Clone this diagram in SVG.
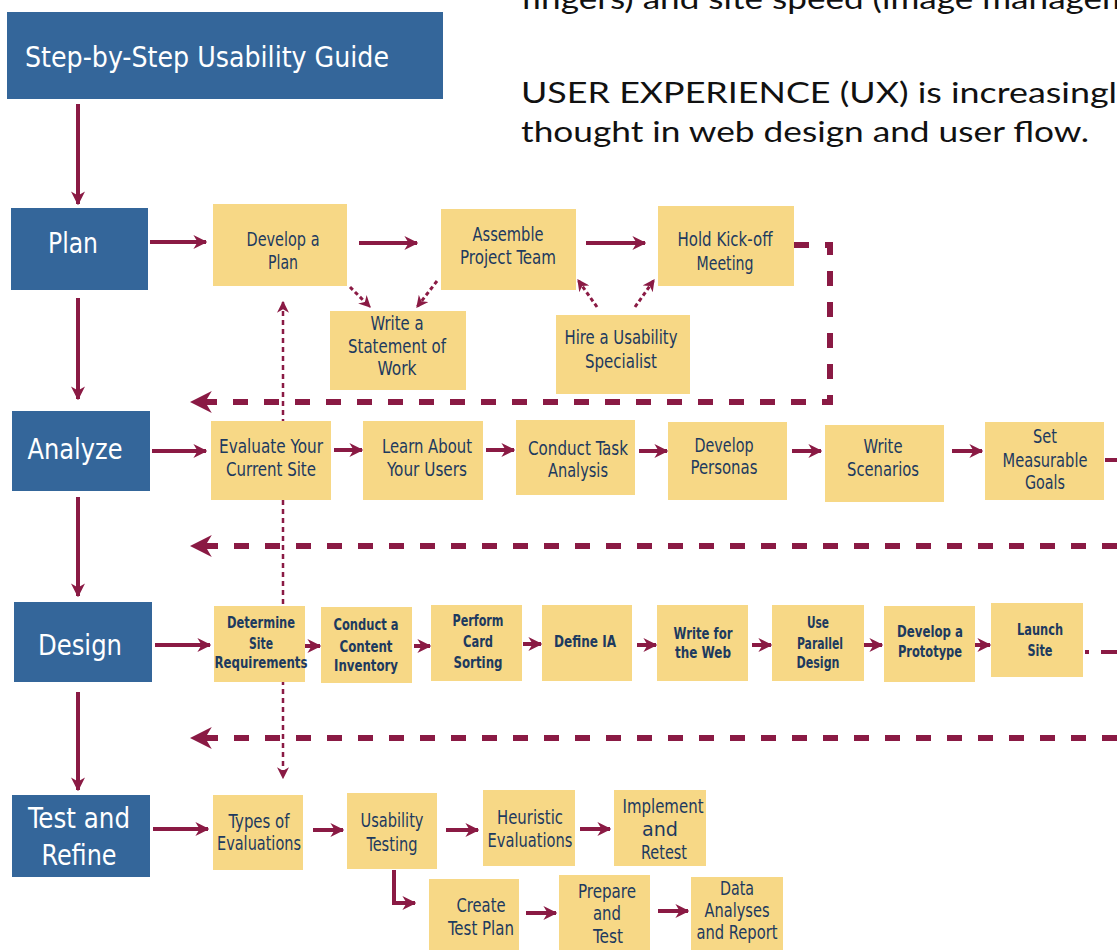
<svg xmlns="http://www.w3.org/2000/svg" width="1117" height="950" viewBox="0 0 1117 950">
  <style>
    .blue { fill: #34669a; }
    .yel { fill: #f7d886; }
    .head { font-family: "DejaVu Sans Condensed", "DejaVu Sans", sans-serif; fill: #ffffff; text-anchor: middle; font-size: 29px; }
    .lbl { font-family: "Liberation Sans Narrow", "DejaVu Sans Condensed", sans-serif; fill: #1d3a5f; text-anchor: middle; font-size: 19px; }
    .sm { font-size: 15px; font-weight: bold; }
    .note { font-family: Lato, "Noto Sans", sans-serif; fill: #111111; font-size: 28px; }
    .con { stroke: #8a1a44; stroke-width: 4; fill: none; }
    .dash { stroke: #8a1a44; stroke-width: 6; fill: none; stroke-dasharray: 15 16; }
    .dot { stroke: #8a1a44; stroke-width: 2.5; fill: none; stroke-dasharray: 5 4; }
    .dotd { stroke: #8a1a44; stroke-width: 3; fill: none; stroke-dasharray: 4 3; }
  </style>
  <defs>
    <marker id="ah" viewBox="0 0 10 10" refX="9" refY="5" markerWidth="14" markerHeight="14" markerUnits="userSpaceOnUse" orient="auto-start-reverse">
      <path d="M0,0 L10,5 L0,10 L3,5 z" fill="#8a1a44"/>
    </marker>
    <marker id="ahBig" viewBox="0 0 10 10" refX="9" refY="5" markerWidth="22" markerHeight="22" markerUnits="userSpaceOnUse" orient="auto-start-reverse">
      <path d="M0,0 L10,5 L0,10 L3,5 z" fill="#8a1a44"/>
    </marker>
    <marker id="ahSm" viewBox="0 0 10 10" refX="9" refY="5" markerWidth="12" markerHeight="12" markerUnits="userSpaceOnUse" orient="auto-start-reverse">
      <path d="M0,0 L10,5 L0,10 L3,5 z" fill="#8a1a44"/>
    </marker>
  </defs>

  <rect width="1117" height="950" fill="#ffffff"/>

  <!-- side note text -->
  <g id="note">
    <text class="note" x="521" y="9" textLength="610" lengthAdjust="spacingAndGlyphs">fingers) and site speed (image managem</text>
    <text class="note" x="521" y="103" textLength="596" lengthAdjust="spacingAndGlyphs">USER EXPERIENCE (UX) is increasingl</text>
    <text class="note" x="521" y="142" textLength="568" lengthAdjust="spacingAndGlyphs">thought in web design and user flow.</text>
  </g>

  <!-- connectors -->
  <g id="connectors">
    <!-- phase spine -->
    <path class="con" d="M78,104 V204" marker-end="url(#ah)"/>
    <path class="con" d="M78,298 V399" marker-end="url(#ah)"/>
    <path class="con" d="M78,497 V596" marker-end="url(#ah)"/>
    <path class="con" d="M78,692 V790" marker-end="url(#ah)"/>

    <!-- plan row -->
    <path class="con" d="M150,242 H206" marker-end="url(#ah)"/>
    <path class="con" d="M359,243 H417" marker-end="url(#ah)"/>
    <path class="con" d="M586,243 H645" marker-end="url(#ah)"/>
    <path class="dotd" d="M350,287 L370,307" marker-end="url(#ahSm)"/>
    <path class="dotd" d="M437,281 L417,307" marker-end="url(#ahSm)"/>
    <path class="dotd" d="M597,307 L578,280" marker-end="url(#ahSm)"/>
    <path class="dotd" d="M635,307 L654,280" marker-end="url(#ahSm)"/>
    <path class="dash" d="M794,245 H830 V402 H192" marker-end="url(#ahBig)"/>

    <!-- vertical link between first steps -->
    <path class="dot" d="M283,302 V778" marker-start="url(#ahSm)" marker-end="url(#ahSm)"/>

    <!-- analyze row -->
    <path class="con" d="M152,451 H206" marker-end="url(#ah)"/>
    <path class="con" stroke-width="5" d="M334,450 H362" marker-end="url(#ah)"/>
    <path class="con" stroke-width="5" d="M486,450 H514" marker-end="url(#ah)"/>
    <path class="con" stroke-width="5" d="M639,451 H667" marker-end="url(#ah)"/>
    <path class="con" stroke-width="5" d="M792,451 H821" marker-end="url(#ah)"/>
    <path class="con" stroke-width="5" d="M952,451 H982" marker-end="url(#ah)"/>
    <path class="con" stroke-width="5" d="M1105,460 H1117"/>
    <path class="dash" d="M1117,546 H192" marker-end="url(#ahBig)"/>

    <!-- design row -->
    <path class="con" d="M155,645 H210" marker-end="url(#ah)"/>
    <path class="con" d="M305,646 H320" marker-end="url(#ah)"/>
    <path class="con" d="M414,646 H430" marker-end="url(#ah)"/>
    <path class="con" d="M523,644 H541" marker-end="url(#ah)"/>
    <path class="con" d="M637,645 H656" marker-end="url(#ah)"/>
    <path class="con" d="M752,645 H771" marker-end="url(#ah)"/>
    <path class="con" d="M864,645 H882" marker-end="url(#ah)"/>
    <path class="con" d="M975,645 H990" marker-end="url(#ah)"/>
    <path class="con" stroke-width="5" stroke-dasharray="4 12 30" d="M1085,652 H1117"/>
    <path class="dash" d="M1117,738 H192" marker-end="url(#ahBig)"/>

    <!-- test row -->
    <path class="con" stroke-width="5" d="M153,829 H208" marker-end="url(#ah)"/>
    <path class="con" stroke-width="5" d="M313,830 H343" marker-end="url(#ah)"/>
    <path class="con" stroke-width="5" d="M446,830 H478" marker-end="url(#ah)"/>
    <path class="con" stroke-width="5" d="M580,829 H610" marker-end="url(#ah)"/>
    <path class="con" d="M394,870 V903 H415" marker-end="url(#ah)"/>
    <path class="con" stroke-width="5" d="M526,913 H556" marker-end="url(#ah)"/>
    <path class="con" d="M658,911 H688" marker-end="url(#ah)"/>
  </g>

  <!-- title and phases -->
  <g id="title">
    <rect class="blue" x="7" y="12" width="436" height="87"/>
    <text class="head" x="25" y="67" style="text-anchor:start" font-size="33" textLength="364" lengthAdjust="spacingAndGlyphs">Step-by-Step Usability Guide</text>
  </g>
  <g id="plan">
    <rect class="blue" x="11" y="208" width="137" height="82"/>
    <text class="head" x="73" y="253" textLength="50" lengthAdjust="spacingAndGlyphs">Plan</text>
  </g>
  <g id="analyze">
    <rect class="blue" x="12" y="411" width="138" height="80"/>
    <text class="head" x="75" y="459" textLength="95" lengthAdjust="spacingAndGlyphs">Analyze</text>
  </g>
  <g id="design">
    <rect class="blue" x="14" y="602" width="138" height="80"/>
    <text class="head" x="80" y="655" textLength="84" lengthAdjust="spacingAndGlyphs">Design</text>
  </g>
  <g id="test-refine">
    <rect class="blue" x="12" y="795" width="138" height="82"/>
    <text class="head" x="79" y="828" textLength="102" lengthAdjust="spacingAndGlyphs">Test and</text>
    <text class="head" x="79" y="865" textLength="75" lengthAdjust="spacingAndGlyphs">Refine</text>
  </g>

  <!-- plan steps -->
  <g id="develop-plan">
    <rect class="yel" x="213" y="204" width="134" height="82"/>
    <text class="lbl" x="283" y="246" textLength="73" lengthAdjust="spacingAndGlyphs">Develop a</text>
    <text class="lbl" x="283" y="269" textLength="30" lengthAdjust="spacingAndGlyphs">Plan</text>
  </g>
  <g id="assemble-team">
    <rect class="yel" x="441" y="209" width="135" height="81"/>
    <text class="lbl" x="508" y="241" textLength="71" lengthAdjust="spacingAndGlyphs">Assemble</text>
    <text class="lbl" x="508" y="264" textLength="96" lengthAdjust="spacingAndGlyphs">Project Team</text>
  </g>
  <g id="kick-off">
    <rect class="yel" x="658" y="206" width="136" height="80"/>
    <text class="lbl" x="725" y="246" textLength="95" lengthAdjust="spacingAndGlyphs">Hold Kick-off</text>
    <text class="lbl" x="725" y="270" textLength="57" lengthAdjust="spacingAndGlyphs">Meeting</text>
  </g>
  <g id="statement-of-work">
    <rect class="yel" x="330" y="311" width="136" height="79"/>
    <text class="lbl" x="397" y="330" textLength="53" lengthAdjust="spacingAndGlyphs">Write a</text>
    <text class="lbl" x="397" y="353" textLength="98" lengthAdjust="spacingAndGlyphs">Statement of</text>
    <text class="lbl" x="397" y="375" textLength="39" lengthAdjust="spacingAndGlyphs">Work</text>
  </g>
  <g id="usability-specialist">
    <rect class="yel" x="556" y="315" width="134" height="79"/>
    <text class="lbl" x="621" y="344" textLength="113" lengthAdjust="spacingAndGlyphs">Hire a Usability</text>
    <text class="lbl" x="621" y="368" textLength="72" lengthAdjust="spacingAndGlyphs">Specialist</text>
  </g>

  <!-- analyze steps -->
  <g id="evaluate-site">
    <rect class="yel" x="211" y="421" width="120" height="79"/>
    <text class="lbl" x="271" y="453" textLength="104" lengthAdjust="spacingAndGlyphs">Evaluate Your</text>
    <text class="lbl" x="271" y="476" textLength="90" lengthAdjust="spacingAndGlyphs">Current Site</text>
  </g>
  <g id="learn-users">
    <rect class="yel" x="363" y="421" width="120" height="79"/>
    <text class="lbl" x="427" y="453" textLength="90" lengthAdjust="spacingAndGlyphs">Learn About</text>
    <text class="lbl" x="427" y="476" textLength="80" lengthAdjust="spacingAndGlyphs">Your Users</text>
  </g>
  <g id="task-analysis">
    <rect class="yel" x="516" y="420" width="119" height="75"/>
    <text class="lbl" x="578" y="455" textLength="100" lengthAdjust="spacingAndGlyphs">Conduct Task</text>
    <text class="lbl" x="578" y="477" textLength="60" lengthAdjust="spacingAndGlyphs">Analysis</text>
  </g>
  <g id="personas">
    <rect class="yel" x="668" y="422" width="119" height="78"/>
    <text class="lbl" x="724" y="452" textLength="59" lengthAdjust="spacingAndGlyphs">Develop</text>
    <text class="lbl" x="724" y="474" textLength="67" lengthAdjust="spacingAndGlyphs">Personas</text>
  </g>
  <g id="scenarios">
    <rect class="yel" x="825" y="425" width="119" height="77"/>
    <text class="lbl" x="883" y="453" textLength="39" lengthAdjust="spacingAndGlyphs">Write</text>
    <text class="lbl" x="883" y="476" textLength="72" lengthAdjust="spacingAndGlyphs">Scenarios</text>
  </g>
  <g id="goals">
    <rect class="yel" x="985" y="422" width="119" height="78"/>
    <text class="lbl" x="1045" y="443" textLength="24" lengthAdjust="spacingAndGlyphs">Set</text>
    <text class="lbl" x="1045" y="467" textLength="85" lengthAdjust="spacingAndGlyphs">Measurable</text>
    <text class="lbl" x="1045" y="489" textLength="40" lengthAdjust="spacingAndGlyphs">Goals</text>
  </g>

  <!-- design steps -->
  <g id="site-requirements">
    <rect class="yel" x="214" y="606" width="91" height="76"/>
    <text class="lbl sm" x="261" y="628" textLength="68" lengthAdjust="spacingAndGlyphs">Determine</text>
    <text class="lbl sm" x="261" y="649" textLength="24" lengthAdjust="spacingAndGlyphs">Site</text>
    <text class="lbl sm" x="261" y="668" textLength="93" lengthAdjust="spacingAndGlyphs">Requirements</text>
  </g>
  <g id="content-inventory">
    <rect class="yel" x="321" y="607" width="91" height="76"/>
    <text class="lbl sm" x="366" y="630" textLength="65" lengthAdjust="spacingAndGlyphs">Conduct a</text>
    <text class="lbl sm" x="366" y="652" textLength="53" lengthAdjust="spacingAndGlyphs">Content</text>
    <text class="lbl sm" x="366" y="671" textLength="64" lengthAdjust="spacingAndGlyphs">Inventory</text>
  </g>
  <g id="card-sorting">
    <rect class="yel" x="431" y="605" width="91" height="76"/>
    <text class="lbl sm" x="478" y="626" textLength="51" lengthAdjust="spacingAndGlyphs">Perform</text>
    <text class="lbl sm" x="478" y="647" textLength="30" lengthAdjust="spacingAndGlyphs">Card</text>
    <text class="lbl sm" x="478" y="668" textLength="49" lengthAdjust="spacingAndGlyphs">Sorting</text>
  </g>
  <g id="define-ia">
    <rect class="yel" x="542" y="605" width="90" height="76"/>
    <text class="lbl sm" x="585" y="647" textLength="62" lengthAdjust="spacingAndGlyphs">Define IA</text>
  </g>
  <g id="write-web">
    <rect class="yel" x="657" y="605" width="91" height="76"/>
    <text class="lbl sm" x="703" y="639" textLength="59" lengthAdjust="spacingAndGlyphs">Write for</text>
    <text class="lbl sm" x="703" y="658" textLength="56" lengthAdjust="spacingAndGlyphs">the Web</text>
  </g>
  <g id="parallel-design">
    <rect class="yel" x="772" y="605" width="92" height="76"/>
    <text class="lbl sm" x="818" y="628" textLength="22" lengthAdjust="spacingAndGlyphs">Use</text>
    <text class="lbl sm" x="820" y="649" textLength="46" lengthAdjust="spacingAndGlyphs">Parallel</text>
    <text class="lbl sm" x="818" y="668" textLength="43" lengthAdjust="spacingAndGlyphs">Design</text>
  </g>
  <g id="prototype">
    <rect class="yel" x="884" y="606" width="91" height="76"/>
    <text class="lbl sm" x="930" y="637" textLength="66" lengthAdjust="spacingAndGlyphs">Develop a</text>
    <text class="lbl sm" x="930" y="657" textLength="64" lengthAdjust="spacingAndGlyphs">Prototype</text>
  </g>
  <g id="launch-site">
    <rect class="yel" x="991" y="603" width="92" height="74"/>
    <text class="lbl sm" x="1040" y="635" textLength="46" lengthAdjust="spacingAndGlyphs">Launch</text>
    <text class="lbl sm" x="1040" y="656" textLength="25" lengthAdjust="spacingAndGlyphs">Site</text>
  </g>

  <!-- test steps -->
  <g id="types-of-evaluations">
    <rect class="yel" x="213" y="795" width="90" height="75"/>
    <text class="lbl" x="259" y="828" textLength="61" lengthAdjust="spacingAndGlyphs">Types of</text>
    <text class="lbl" x="259" y="850" textLength="84" lengthAdjust="spacingAndGlyphs">Evaluations</text>
  </g>
  <g id="usability-testing">
    <rect class="yel" x="347" y="793" width="90" height="76"/>
    <text class="lbl" x="392" y="827" textLength="63" lengthAdjust="spacingAndGlyphs">Usability</text>
    <text class="lbl" x="392" y="851" textLength="51" lengthAdjust="spacingAndGlyphs">Testing</text>
  </g>
  <g id="heuristic">
    <rect class="yel" x="483" y="790" width="92" height="76"/>
    <text class="lbl" x="530" y="824" textLength="66" lengthAdjust="spacingAndGlyphs">Heuristic</text>
    <text class="lbl" x="530" y="847" textLength="85" lengthAdjust="spacingAndGlyphs">Evaluations</text>
  </g>
  <g id="implement-retest">
    <rect class="yel" x="614" y="790" width="92" height="76"/>
    <text class="lbl" x="663" y="813" textLength="81" lengthAdjust="spacingAndGlyphs">Implement</text>
    <text class="lbl" x="660" y="836" textLength="36" lengthAdjust="spacingAndGlyphs">and</text>
    <text class="lbl" x="664" y="859" textLength="46" lengthAdjust="spacingAndGlyphs">Retest</text>
  </g>
  <g id="test-plan">
    <rect class="yel" x="429" y="879" width="90" height="71"/>
    <text class="lbl" x="481" y="912" textLength="49" lengthAdjust="spacingAndGlyphs">Create</text>
    <text class="lbl" x="481" y="935" textLength="66" lengthAdjust="spacingAndGlyphs">Test Plan</text>
  </g>
  <g id="prepare-test">
    <rect class="yel" x="559" y="875" width="91" height="75"/>
    <text class="lbl" x="607" y="898" textLength="58" lengthAdjust="spacingAndGlyphs">Prepare</text>
    <text class="lbl" x="607" y="920" textLength="28" lengthAdjust="spacingAndGlyphs">and</text>
    <text class="lbl" x="608" y="943" textLength="30" lengthAdjust="spacingAndGlyphs">Test</text>
  </g>
  <g id="data-analyses">
    <rect class="yel" x="691" y="877" width="92" height="73"/>
    <text class="lbl" x="737" y="895" textLength="34" lengthAdjust="spacingAndGlyphs">Data</text>
    <text class="lbl" x="737" y="917" textLength="65" lengthAdjust="spacingAndGlyphs">Analyses</text>
    <text class="lbl" x="737" y="939" textLength="81" lengthAdjust="spacingAndGlyphs">and Report</text>
  </g>
</svg>
